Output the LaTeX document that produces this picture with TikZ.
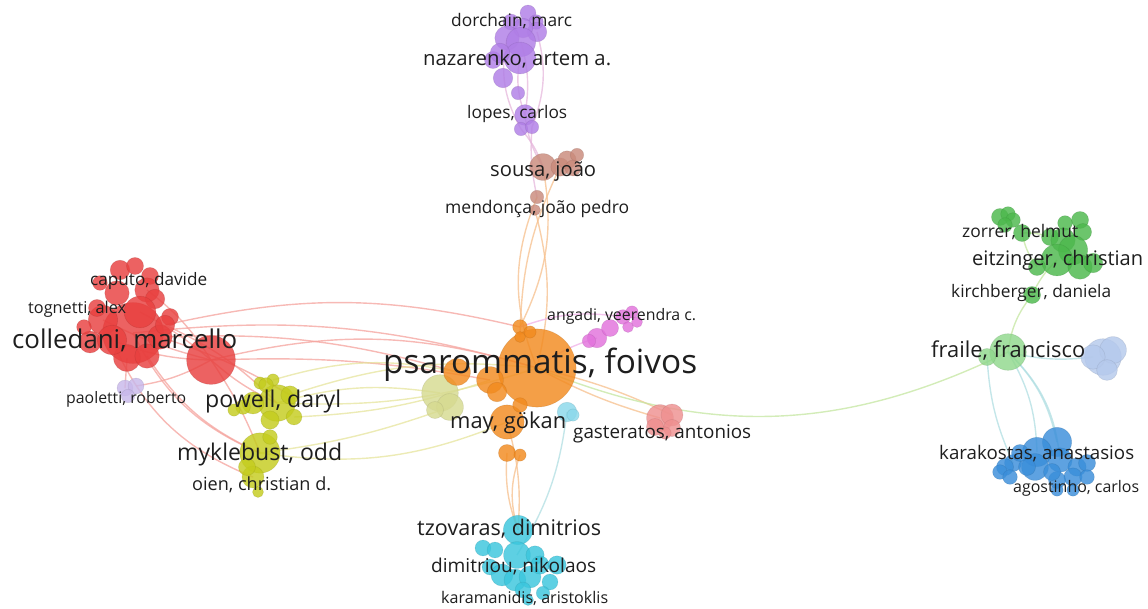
\documentclass[tikz,border=0pt]{standalone}
\usepackage{fontspec}
\setmainfont{Open Sans}
\usetikzlibrary{backgrounds}

% bubble colours
\definecolor{cRed}{HTML}{E8403F}
\definecolor{cOra}{HTML}{F28A1E}
\definecolor{cYel}{HTML}{C4CC1E}
\definecolor{cPal}{HTML}{D6DA90}
\definecolor{cPur}{HTML}{B07EE6}
\definecolor{cBro}{HTML}{C98A7B}
\definecolor{cGre}{HTML}{4CB84C}
\definecolor{cLgr}{HTML}{90D88C}
\definecolor{cLbl}{HTML}{B5C9EC}
\definecolor{cBlu}{HTML}{3A8EDA}
\definecolor{cCya}{HTML}{3BC6DD}
\definecolor{cLcy}{HTML}{8AD8EA}
\definecolor{cPin}{HTML}{EE9090}
\definecolor{cMag}{HTML}{E272DC}
\definecolor{cLav}{HTML}{C8B8EA}
% link colours
\definecolor{eRed}{HTML}{F4A29C}
\definecolor{eOra}{HTML}{F6BF8C}
\definecolor{eYel}{HTML}{E6E49C}
\definecolor{ePur}{HTML}{E6B8DC}
\definecolor{eGre}{HTML}{C4E6A0}
\definecolor{eCya}{HTML}{B0DEE2}
\definecolor{eMag}{HTML}{F0B0E8}
\definecolor{txt}{HTML}{1E1E1E}

\newcommand\fitw[2]{\resizebox{#1pt}{!}{#2}}

\tikzset{
  bub/.style={circle, inner sep=0pt, minimum size=1.22*#1pt, fill opacity=0.82,
              draw opacity=0.25, line width=0.6pt},
  rd/.style={bub=#1, fill=cRed, draw=cRed!70!black},
  og/.style={bub=#1, fill=cOra, draw=cOra!70!black},
  yl/.style={bub=#1, fill=cYel, draw=cYel!70!black},
  pl/.style={bub=#1, fill=cPal, draw=cPal!70!black},
  pu/.style={bub=#1, fill=cPur, draw=cPur!70!black},
  br/.style={bub=#1, fill=cBro, draw=cBro!70!black},
  gr/.style={bub=#1, fill=cGre, draw=cGre!70!black},
  lg/.style={bub=#1, fill=cLgr, draw=cLgr!70!black},
  lb/.style={bub=#1, fill=cLbl, draw=cLbl!70!black},
  bl/.style={bub=#1, fill=cBlu, draw=cBlu!70!black},
  cy/.style={bub=#1, fill=cCya, draw=cCya!70!black},
  lc/.style={bub=#1, fill=cLcy, draw=cLcy!70!black},
  pk/.style={bub=#1, fill=cPin, draw=cPin!70!black},
  mg/.style={bub=#1, fill=cMag, draw=cMag!70!black},
  lv/.style={bub=#1, fill=cLav, draw=cLav!70!black},
  link/.style={line width=1.4pt, draw opacity=0.75, draw=#1},
  lab/.style={anchor=base west, inner sep=0pt, text=txt, font=\fontsize{20}{24}\selectfont},
}

\begin{document}
\begin{tikzpicture}[x=1pt,y=-1pt]
\useasboundingbox (0,0) rectangle (1148,608);

% ---------- red cluster ----------
\node[rd=50] (r0) at (133,333) {};
\node[rd=40] (rM) at (211,360) {};
\node[rd=16] (r1) at (120,270) {};
\node[rd=14] (r2) at (135,266) {};
\node[rd=14] (r16) at (150,276) {};
\node[rd=12] (r3) at (100,283) {};
\node[rd=20] (r4) at (117,293) {};
\node[rd=20] (r5) at (147,290) {};
\node[rd=16] (r6) at (155,299) {};
\node[rd=26] (r7) at (140,312) {};
\node[rd=14] (r8) at (170,317) {};
\node[rd=24] (r9) at (103,320) {};
\node[rd=18] (r10) at (90,342) {};
\node[rd=22] (r11) at (127,358) {};
\node[rd=20] (r12) at (147,356) {};
\node[rd=20] (r13) at (160,337) {};
\node[rd=14] (r14) at (97,308) {};
\node[rd=24] (r15) at (112,340) {};
\node[rd=12] (r17) at (84,327) {};
\node[rd=16] (r18) at (165,325) {};

% ---------- lavender ----------
\node[lv=13] (l0) at (125,388) {};
\node[lv=13] (l1) at (136,386) {};
\node[lv=11] (l2) at (128,396) {};

% ---------- yellow cluster ----------
\node[yl=30] (y0) at (277,403) {};
\node[yl=33] (y1) at (260,453) {};
\node[yl=10] (y2) at (260,383) {};
\node[yl=10] (y3) at (273,380) {};
\node[yl=12] (y15) at (266,385) {};
\node[yl=18] (y4) at (253,403) {};
\node[yl=13] (y5) at (294,417) {};
\node[yl=12] (y6) at (243,407) {};
\node[yl=15] (y7) at (290,395) {};
\node[yl=15] (y8) at (270,420) {};
\node[yl=10] (y9) at (234,410) {};
\node[yl=12] (y10) at (270,437) {};
\node[yl=18] (y11) at (253,477) {};
\node[yl=14] (y12) at (247,467) {};
\node[yl=9] (y13) at (258,492) {};

% ---------- pale yellow ----------
\node[pl=30] (p0) at (440,393) {};
\node[pl=22] (p1) at (450,407) {};
\node[pl=14] (p2) at (435,410) {};

% ---------- orange cluster ----------
\node[og=64] (o0) at (537,368) {};
\node[og=28] (o1) at (507,422) {};
\node[og=14] (o2) at (507,453) {};
\node[og=10] (o3) at (520,455) {};
\node[og=12] (o4) at (520,327) {};
\node[og=10] (o5) at (530,332) {};
\node[og=9] (o6) at (520,337) {};
\node[og=22] (o7) at (457,372) {};
\node[og=22] (o8) at (490,380) {};
\node[og=12] (o9) at (520,405) {};
\node[og=16] (o11) at (497,392) {};

% ---------- light cyan ----------
\node[lc=16] (q0) at (567,412) {};
\node[lc=10] (q1) at (573,415) {};

% ---------- pink ----------
\node[pk=22] (g0) at (660,418) {};
\node[pk=18] (g1) at (672,415) {};
\node[pk=14] (g2) at (655,427) {};
\node[pk=14] (g3) at (672,428) {};
\node[pk=10] (g4) at (665,433) {};

% ---------- magenta ----------
\node[mg=16] (m0) at (597,338) {};
\node[mg=14] (m1) at (610,328) {};
\node[mg=12] (m2) at (623,317) {};
\node[mg=10] (m3) at (632,312) {};
\node[mg=9] (m4) at (628,327) {};
\node[mg=9] (m5) at (637,322) {};
\node[mg=11] (m6) at (589,341) {};

% ---------- purple ----------
\node[pu=13] (u0) at (528,13) {};
\node[pu=12] (u13) at (536,22) {};
\node[pu=13] (u14) at (511,22) {};
\node[pu=16] (u1) at (537,32) {};
\node[pu=16] (u2) at (523,28) {};
\node[pu=20] (u3) at (507,38) {};
\node[pu=24] (u4) at (521,42) {};
\node[pu=14] (u5) at (493,60) {};
\node[pu=26] (u6) at (520,58) {};
\node[pu=16] (u7) at (500,53) {};
\node[pu=16] (u8) at (503,78) {};
\node[pu=11] (u9) at (518,93) {};
\node[pu=17] (u10) at (525,115) {};
\node[pu=11] (u11) at (521,129) {};
\node[pu=11] (u12) at (532,127) {};

% ---------- brown ----------
\node[br=22] (b0) at (543,167) {};
\node[br=15] (b1) at (560,167) {};
\node[br=15] (b2) at (567,160) {};
\node[br=11] (b3) at (577,155) {};
\node[br=13] (b4) at (573,168) {};
\node[br=11] (b5) at (537,197) {};
\node[br=9] (b6) at (535,210) {};

% ---------- green ----------
\node[gr=14] (e0) at (1000,217) {};
\node[gr=12] (e1) at (1008,214) {};
\node[gr=12] (e2) at (1013,220) {};
\node[gr=12] (e3) at (1005,225) {};
\node[gr=14] (e4) at (1022,233) {};
\node[gr=14] (e5) at (1080,220) {};
\node[gr=12] (e6) at (1065,223) {};
\node[gr=14] (e7) at (1083,232) {};
\node[gr=14] (e8) at (1050,237) {};
\node[gr=20] (e9) at (1063,240) {};
\node[gr=24] (e10) at (1073,250) {};
\node[gr=26] (e11) at (1057,260) {};
\node[gr=20] (e12) at (1080,267) {};
\node[gr=16] (e13) at (1093,263) {};
\node[gr=14] (e14) at (1037,267) {};
\node[gr=14] (e15) at (1032,295) {};

% ---------- light green / light blue ----------
\node[lg=30] (f0) at (1008,352) {};
\node[lg=14] (f1) at (987,357) {};
\node[lb=30] (lb0) at (1103,357) {};
\node[lb=22] (lb1) at (1113,350) {};
\node[lb=20] (lb2) at (1093,357) {};
\node[lb=17] (lb3) at (1107,370) {};

% ---------- blue ----------
\node[bl=24] (k0) at (1057,442) {};
\node[bl=24] (k1) at (1037,452) {};
\node[bl=22] (k2) at (1035,467) {};
\node[bl=14] (k3) at (1013,463) {};
\node[bl=14] (k4) at (1005,467) {};
\node[bl=12] (k5) at (1000,472) {};
\node[bl=12] (k6) at (1010,477) {};
\node[bl=20] (k7) at (1060,460) {};
\node[bl=15] (k8) at (1077,467) {};
\node[bl=14] (k9) at (1087,463) {};
\node[bl=15] (k10) at (1073,477) {};
\node[bl=12] (k11) at (1087,477) {};
\node[bl=14] (k12) at (1057,480) {};
\node[bl=10] (k13) at (1057,490) {};
\node[bl=10] (k14) at (1073,490) {};
\node[bl=14] (k15) at (1052,472) {};
\node[bl=14] (k16) at (1027,467) {};
\node[bl=14] (k17) at (1020,453) {};

% ---------- cyan ----------
\node[cy=24] (c0) at (518,530) {};
\node[cy=13] (c1) at (483,548) {};
\node[cy=13] (c2) at (495,550) {};
\node[cy=22] (c3) at (517,555) {};
\node[cy=15] (c4) at (535,555) {};
\node[cy=13] (c5) at (490,567) {};
\node[cy=18] (c6) at (502,575) {};
\node[cy=18] (c7) at (515,580) {};
\node[cy=18] (c8) at (530,577) {};
\node[cy=13] (c9) at (550,582) {};
\node[cy=15] (c10) at (540,565) {};
\node[cy=13] (c11) at (523,590) {};
\node[cy=11] (c12) at (543,593) {};
\node[cy=15] (c13) at (557,565) {};
\node[cy=9] (c14) at (528,600) {};

% ---------- links ----------
\begin{scope}[on background layer]
  % red to orange and yellow
  \draw[link=eRed] (rM.center) to[bend left=15] (o0.center);
  \draw[link=eRed] (r0.center) to[bend left=11] (o0.center);
  \draw[link=eRed] (r13.center) to[bend left=9] (o7.center);
  \draw[link=eRed] (r18.center) to[bend left=13] (o4.center);
  \draw[link=eRed] (rM.center) to[bend left=6] (o8.center);
  \draw[link=eRed] (rM.center) to[bend right=8] (y0.center);
  \draw[link=eRed] (rM.center) to[bend left=6] (y1.center);
  \draw[link=eRed] (r12.center) to[bend right=16] (y1.center);
  \draw[link=eRed] (r0.center) to[bend right=20] (y1.center);
  \draw[link=eRed] (r15.center) to[bend right=22] (y11.center);
  \draw[link=eRed] (r7.center) to[bend left=6] (rM.center);
  \draw[link=eRed] (r9.center) to[bend right=6] (rM.center);
  \draw[link=eRed] (r15.center) to[bend right=10] (rM.center);
  \draw[link=eRed] (r5.center) to[bend left=10] (rM.center);
  \draw[link=eRed] (r11.center) to (l0.center);
  \draw[link=eRed] (rM.center) to[bend left=10] (l1.center);
  \draw[link=eRed] (r18.center) to[bend left=10] (y0.center);
  \draw[link=eRed] (r13.center) to[bend left=6] (y7.center);
  % yellow to orange
  \draw[link=eYel] (y0.center) to[bend left=12] (p0.center);
  \draw[link=eYel] (y0.center) to[bend right=10] (o0.center);
  \draw[link=eYel] (y7.center) to[bend left=12] (o0.center);
  \draw[link=eYel] (y3.center) to[bend left=14] (o7.center);
  \draw[link=eYel] (y1.center) to[bend right=15] (o1.center);
  \draw[link=eYel] (y1.center) to[bend right=6] (p1.center);
  \draw[link=eYel] (y5.center) to[bend right=8] (o8.center);
  % orange to brown, cyan, pink, magenta
  \draw[link=eOra] (o0.center) to[bend left=22] (b5.center);
  \draw[link=eOra] (o4.center) to[bend right=18] (b0.center);
  \draw[link=eOra] (o0.center) to[bend right=14] (b6.center);
  \draw[link=eOra] (o6.center) to[bend left=12] (b1.center);
  \draw[link=eOra] (o1.center) to[bend left=10] (c0.center);
  \draw[link=eOra] (o2.center) to[bend right=12] (c0.center);
  \draw[link=eOra] (o3.center) to[bend right=18] (c0.center);
  \draw[link=eOra] (o0.center) to[bend right=6] (g0.center);
  \draw[link=eOra] (o0.center) to[bend left=6] (g1.center);
  \draw[link=eGre] (o0.center) to[bend right=24] (f0.center);
  \draw[link=eMag] (o0.center) to[bend left=10] (m0.center);
  \draw[link=eMag] (o4.center) to[bend left=14] (m2.center);
  \draw[link=eCya] (q0.center) to[bend left=12] (c3.center);
  % purple chain
  \draw[link=ePur] (b0.center) to[bend left=12] (u10.center);
  \draw[link=ePur] (b0.center) to[bend right=10] (u11.center);
  \draw[link=ePur] (b5.center) to[bend left=8] (u12.center);
  \draw[link=ePur] (u10.center) to[bend left=15] (u6.center);
  \draw[link=ePur] (u10.center) to[bend right=12] (u4.center);
  \draw[link=ePur] (u12.center) to[bend right=18] (u1.center);
  \draw[link=ePur] (u11.center) to[bend left=20] (u3.center);
  % green and blue
  \draw[link=eGre] (f0.center) to[bend left=15] (e15.center);
  \draw[link=eGre] (e15.center) to[bend left=10] (e11.center);
  \draw[link=eGre] (e14.center) to[bend left=12] (e4.center);
  \draw[link=eGre] (e4.center) to[bend left=10] (e8.center);
  \draw[link=eCya] (f0.center) to[bend right=10] (lb2.center);
  \draw[link=eCya] (f1.center) to[bend right=10] (k3.center);
  \draw[link=eCya] (f0.center) to[bend left=14] (k1.center);
  \draw[link=eCya] (f0.center) to[bend left=16] (k0.center);
  \draw[link=eCya] (f0.center) to[bend left=20] (k7.center);
\end{scope}

% ---------- labels ----------
\node[lab] (t1) at (383,373) {\fitw{314}{psarommatis, foivos}};
\node[lab] (t2) at (12,348) {\fitw{225}{colledani, marcello}};
\node[lab] (t3) at (90,285) {\fitw{117}{caputo, davide}};
\node[lab] (t4) at (28,313) {\fitw{98}{tognetti, alex}};
\node[lab] (t5) at (66,403) {\fitw{120}{paoletti, roberto}};
\node[lab] (t6) at (205,407) {\fitw{136}{powell, daryl}};
\node[lab] (t7) at (177,460) {\fitw{165}{myklebust, odd}};
\node[lab] (t8) at (192,490) {\fitw{139}{oien, christian d.}};
\node[lab] (t9) at (451,26) {\fitw{121}{dorchain, marc}};
\node[lab] (t10) at (423,65) {\fitw{188}{nazarenko, artem a.}};
\node[lab] (t11) at (467,118) {\fitw{100}{lopes, carlos}};
\node[lab] (t12) at (490,176) {\fitw{106}{sousa, joão}};
\node[lab] (t13) at (445,213) {\fitw{184}{mendonça, joão pedro}};
\node[lab] (t14) at (547,320) {\fitw{149}{angadi, veerendra c.}};
\node[lab] (t15) at (450,428) {\fitw{116}{may, gökan}};
\node[lab] (t16) at (573,438) {\fitw{178}{gasteratos, antonios}};
\node[lab] (t17) at (962,237) {\fitw{116}{zorrer, helmut}};
\node[lab] (t18) at (972,265) {\fitw{171}{eitzinger, christian}};
\node[lab] (t19) at (951,297) {\fitw{160}{kirchberger, daniela}};
\node[lab] (t20) at (931,357) {\fitw{154}{fraile, francisco}};
\node[lab] (t21) at (939,459) {\fitw{195}{karakostas, anastasios}};
\node[lab] (t22) at (1013,492) {\fitw{126}{agostinho, carlos}};
\node[lab] (t23) at (417,535) {\fitw{184}{tzovaras, dimitrios}};
\node[lab] (t24) at (431,572) {\fitw{165}{dimitriou, nikolaos}};
\node[lab] (t25) at (441,603) {\fitw{167}{karamanidis, aristoklis}};
\end{tikzpicture}
\end{document}
